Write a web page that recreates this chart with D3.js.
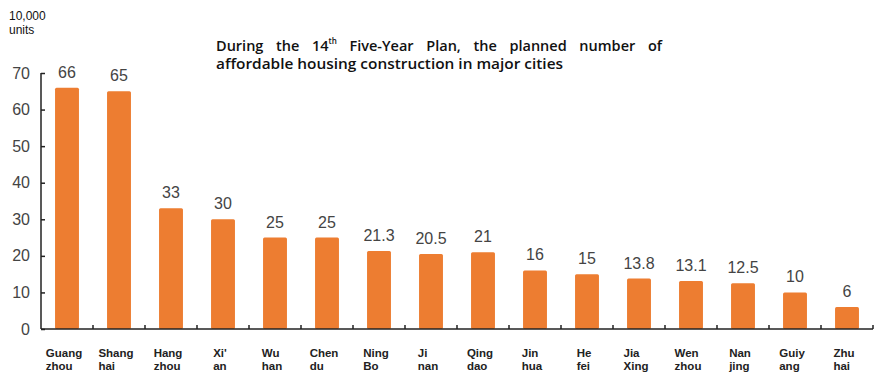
<!DOCTYPE html>
<html>
<head>
<meta charset="utf-8">
<script src="https://cdn.jsdelivr.net/npm/d3@7"></script>
<style>
  body { margin: 0; background: #fff; }
  svg { display: block; }
</style>
</head>
<body>
<div class="canvas"></div>
<script>
const cities = [
  ['Guang', 'zhou'], ['Shang', 'hai'], ['Hang', 'zhou'], ["Xi'", 'an'],
  ['Wu', 'han'], ['Chen', 'du'], ['Ning', 'Bo'], ['Ji', 'nan'],
  ['Qing', 'dao'], ['Jin', 'hua'], ['He', 'fei'], ['Jia', 'Xing'],
  ['Wen', 'zhou'], ['Nan', 'jing'], ['Guiy', 'ang'], ['Zhu', 'hai']
];
const units = [66, 65, 33, 30, 25, 25, 21.3, 20.5, 21, 16, 15, 13.8, 13.1, 12.5, 10, 6];
const yTicks = [0, 10, 20, 30, 40, 50, 60, 70];
const unitLabel = ['10,000', 'units'];
const titleLines = ['During the 14', 'th', ' Five-Year Plan, the planned number of',
  'affordable housing construction in major cities'];

const dims = { width: 885, height: 383 };
const margin = { left: 41, right: 12, top: 73, bottom: 54 };

const svg = d3
  .select('.canvas')
  .append('svg')
  .attr('width', dims.width)
  .attr('height', dims.height);

const names = cities.map(c => c.join(' '));

const x = d3
  .scaleBand()
  .domain(names)
  .range([margin.left, dims.width - margin.right])
  .paddingInner(0.54)
  .paddingOuter(0.27);

const y = d3
  .scaleLinear()
  .domain([0, 70])
  .range([dims.height - margin.bottom, margin.top]);

const data = names.map((n, i) => ({ name: n, parts: cities[i], value: units[i] }));

// bars
svg
  .selectAll('rect.bar')
  .data(data)
  .enter()
  .append('rect')
  .attr('class', 'bar')
  .attr('x', d => x(d.name))
  .attr('y', d => y(d.value))
  .attr('width', x.bandwidth())
  .attr('height', d => y(0) - y(d.value))
  .attr('rx', 1.5)
  .attr('fill', '#ED7D31');

// value labels
svg
  .selectAll('text.val')
  .data(data)
  .enter()
  .append('text')
  .attr('class', 'val')
  .attr('x', d => x(d.name) + x.bandwidth() / 2)
  .attr('y', d => y(d.value) - 10)
  .attr('text-anchor', 'middle')
  .attr('font-family', 'Liberation Sans, Arial, sans-serif')
  .attr('font-size', 16)
  .attr('fill', '#444')
  .text(d => d.value);

// y axis
const yAxis = d3.axisLeft(y).tickValues(yTicks).tickSize(-4).tickPadding(11);
const yG = svg
  .append('g')
  .attr('transform', `translate(${margin.left},0)`)
  .call(yAxis);
yG.select('.domain').attr('stroke', '#222').attr('stroke-width', 1.5).attr('d', `M0,${y(70)}V${y(0)}`);
yG.selectAll('.tick line').attr('stroke', '#222').attr('stroke-width', 1.5);
yG.selectAll('.tick text')
  .attr('font-family', 'Liberation Sans, Arial, sans-serif')
  .attr('font-size', 16)
  .attr('fill', '#444');

// x axis with boundary ticks
const bounds = d3.range(names.length + 1).map(i => margin.left + i * (dims.width - margin.right - margin.left) / names.length);
const xG = svg.append('g');
xG.append('line')
  .attr('x1', margin.left)
  .attr('x2', dims.width - margin.right)
  .attr('y1', y(0))
  .attr('y2', y(0))
  .attr('stroke', '#222')
  .attr('stroke-width', 1.5);
xG.selectAll('line.tk')
  .data(bounds.slice(1))
  .enter()
  .append('line')
  .attr('class', 'tk')
  .attr('x1', d => d)
  .attr('x2', d => d)
  .attr('y1', y(0))
  .attr('y2', y(0) - 4)
  .attr('stroke', '#222')
  .attr('stroke-width', 1.5);

// category labels (two lines, block centred under the bar)
const cat = svg
  .selectAll('text.cat')
  .data(data)
  .enter()
  .append('text')
  .attr('class', 'cat')
  .attr('font-family', 'Liberation Sans, Arial, sans-serif')
  .attr('font-weight', 'bold')
  .attr('font-size', 11.5)
  .attr('fill', '#222');
cat.each(function (d) {
  const t = d3.select(this);
  d.parts.forEach((p, i) => {
    t.append('tspan').attr('y', 357 + i * 13).text(p);
  });
  const w = d3.max(t.selectAll('tspan').nodes(), n => n.getComputedTextLength());
  t.selectAll('tspan').attr('x', x(d.name) + x.bandwidth() / 2 - w / 2 - 3);
});

// unit label
svg
  .append('text')
  .attr('font-family', 'Liberation Sans, Arial, sans-serif')
  .attr('font-size', 12)
  .attr('fill', '#111')
  .selectAll('tspan')
  .data(unitLabel)
  .enter()
  .append('tspan')
  .attr('x', 9)
  .attr('y', (d, i) => 20 + i * 13.6)
  .text(d => d);

// title
const titleFont = 'Open Sans, sans-serif';
const t1 = svg
  .append('text')
  .attr('font-family', titleFont)
  .attr('font-weight', 600)
  .attr('font-size', 14.5)
  .attr('fill', '#111')
  .attr('x', 216)
  .attr('y', 51);
t1.append('tspan').text(titleLines[0]);
t1.append('tspan').attr('font-size', 8).attr('dy', -7).text(titleLines[1]);
t1.append('tspan').attr('dy', 7).text(titleLines[2]);
// justify first line to full width
const w1 = t1.node().getComputedTextLength();
const gaps = (titleLines[0] + titleLines[2]).split(' ').length - 1;
t1.attr('word-spacing', Math.max(0, (446 - w1) / gaps));

svg
  .append('text')
  .attr('font-family', titleFont)
  .attr('font-weight', 600)
  .attr('font-size', 14.5)
  .attr('fill', '#111')
  .attr('x', 216)
  .attr('y', 69)
  .attr('textLength', 347)
  .attr('lengthAdjust', 'spacingAndGlyphs')
  .text(titleLines[3]);
</script>
</body>
</html>
